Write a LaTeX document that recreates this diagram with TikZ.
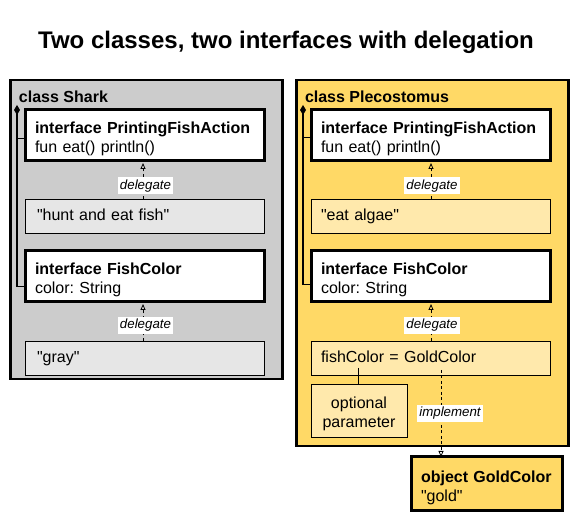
\documentclass[tikz,border=0pt]{standalone}
\usepackage{fontspec}
\setmainfont{Liberation Sans}[Ligatures=TeXOff]
\usetikzlibrary{arrows.meta}
\frenchspacing
\definecolor{sharkgray}{HTML}{CCCCCC}
\definecolor{sharklight}{HTML}{E6E6E6}
\definecolor{goldfill}{HTML}{FFD966}
\definecolor{goldlight}{HTML}{FFE9AC}
\newcommand\dq{\symbol{34}}
\newcommand\topstrut{\rule{0pt}{18.5pt}}
\tikzset{
  txt/.style={font=\fontsize{16}{19}\selectfont, inner sep=0pt, outer sep=0pt},
  classbox/.style={draw, line width=2.5pt, anchor=north west, inner sep=0pt},
  ibox/.style={txt, draw, line width=3pt, fill=white, anchor=north west,
    minimum width=239pt, minimum height=51pt, text width=219pt, align=left},
  vbox/.style={txt, draw, line width=0.8pt, anchor=north west,
    minimum width=239pt, minimum height=34pt, text width=215pt, align=left,
    text height=12pt, text depth=2pt},
  classlabel/.style={txt, font=\bfseries\fontsize{16}{19}\selectfont, anchor=base west},
  delegarrow/.style={line width=0.8pt, dash pattern=on 3pt off 2.5pt,
    -{Triangle[open, width=5pt, length=6pt, line width=0.8pt]}, shorten >=2pt},
  arrowlabel/.style={txt, font=\itshape\fontsize{13.3}{15}\selectfont, fill=white,
    inner xsep=2pt, inner ysep=2pt},
  comp/.style={line width=1.8pt},
  compstart/.style={line width=1.8pt, {Diamond[width=6pt, length=10pt, line width=0pt]}-},
}
\begin{document}
\begin{tikzpicture}[x=1pt,y=-1pt]
\useasboundingbox (0,0) rectangle (576,526);

\node[txt, font=\bfseries\fontsize{24}{28}\selectfont, anchor=base] (title) at (286,49)
  {Two classes, two interfaces with delegation};

% ---------- class Shark ----------
\node[classbox, fill=sharkgray, minimum width=272pt, minimum height=299pt] (shark) at (9,79) {};
\node[classlabel] (sharklbl) at (19,103) {class Shark};

\node[ibox] (sA) at (25,110) {\topstrut\textbf{interface PrintingFishAction}\\fun eat() println()};
\node[vbox, fill=sharklight] (sB) at (25,199) {\dq hunt and eat fish\dq};
\node[ibox] (sC) at (25,251) {\topstrut\textbf{interface FishColor}\\color: String};
\node[vbox, fill=sharklight] (sD) at (25,341) {\dq gray\dq};

\coordinate (sx) at (143,0);
\draw[delegarrow] (sx |- sB.north) -- node[arrowlabel, pos=0.35, xshift=2.5pt] (sdl1) {delegate} (sx |- sA.south);
\draw[delegarrow] (sx |- sD.north) -- node[arrowlabel, pos=0.4, xshift=2.5pt] (sdl2) {delegate} (sx |- sC.south);

\coordinate (sd) at (17,105);
\coordinate (sAc) at ([yshift=-3pt]sA.west);
\coordinate (sCc) at ([yshift=-10pt]sC.west);
\draw[compstart] (sd) -- (sd |- sCc) -- (sCc);
\draw[comp] (sd |- sAc) -- (sAc);

% ---------- class Plecostomus ----------
\node[classbox, fill=goldfill, minimum width=272pt, minimum height=366pt] (pleco) at (295,79) {};
\node[classlabel] (plecolbl) at (305,103) {class Plecostomus};

\node[ibox] (rA) at (311,110) {\topstrut\textbf{interface PrintingFishAction}\\fun eat() println()};
\node[vbox, fill=goldlight, text width=219pt] (rB) at (311,199) {\dq eat algae\dq};
\node[ibox] (rC) at (311,251) {\topstrut\textbf{interface FishColor}\\color: String};
\node[vbox, fill=goldlight, text width=219pt] (rE) at (311,341) {fishColor = GoldColor};
\node[txt, draw, line width=0.8pt, fill=goldlight, anchor=north west, minimum width=96pt,
  minimum height=53pt, align=center] (rOpt) at (311,384) {\topstrut optional\\parameter};

\coordinate (rx) at (431,0);
\draw[delegarrow] (rx |- rB.north) -- node[arrowlabel, pos=0.35, xshift=1pt] (rdl1) {delegate} (rx |- rA.south);
\draw[delegarrow] (rx |- rE.north) -- node[arrowlabel, pos=0.4, xshift=1pt] (rdl2) {delegate} (rx |- rC.south);

\coordinate (rd) at (303,105);
\coordinate (rAc) at ([yshift=-2pt]rA.west);
\coordinate (rCc) at ([yshift=-8pt]rC.west);
\draw[compstart] (rd) -- (rd |- rCc) -- (rCc);
\draw[comp] (rd |- rAc) -- (rAc);

% optional parameter link
\coordinate (fcpar) at (358,368);
\draw[line width=0.8pt] (fcpar) -- (fcpar |- rOpt.north);

% ---------- object GoldColor ----------
\node[ibox, fill=goldfill, minimum width=151pt, minimum height=54pt, text width=131pt]
  (gold) at (411,457) {\topstrut\textbf{object GoldColor}\\\dq gold\dq};

\coordinate (impl) at (441,370);
\draw[delegarrow, shorten >=0pt] (impl) -- node[arrowlabel, pos=0.5, xshift=9pt] (impllbl) {implement} (impl |- gold.north);
\end{tikzpicture}
\end{document}
